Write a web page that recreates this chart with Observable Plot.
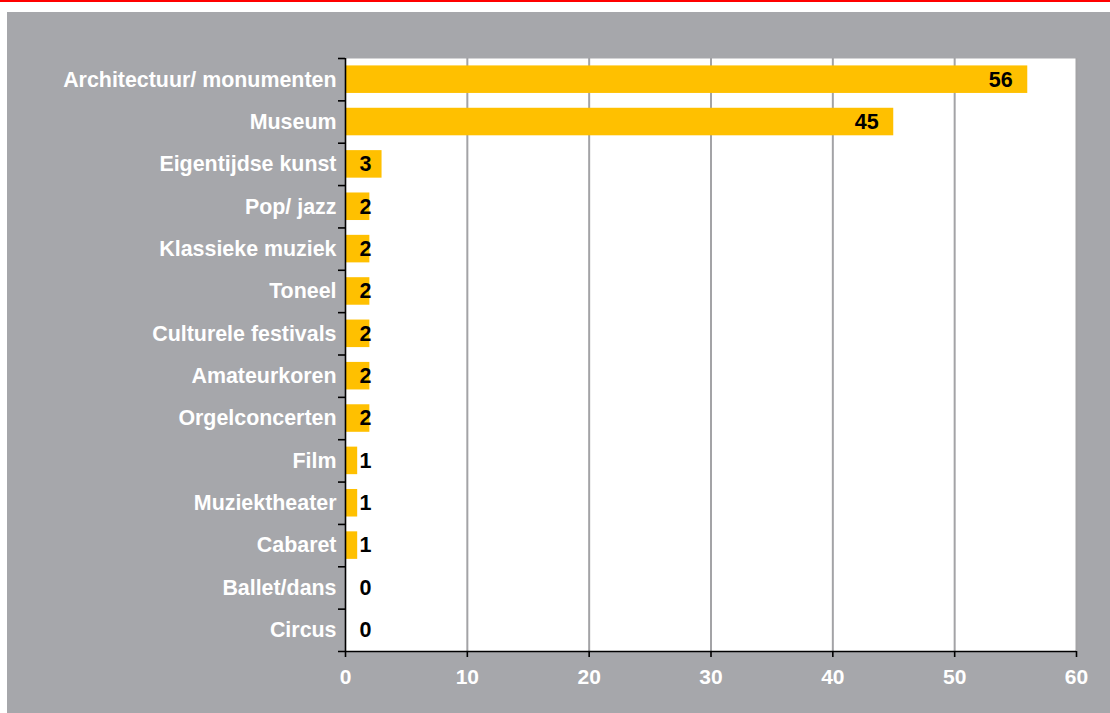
<!DOCTYPE html>
<html>
<head>
<meta charset="utf-8">
<script src="https://cdn.jsdelivr.net/npm/d3@7"></script>
<script src="https://cdn.jsdelivr.net/npm/@observablehq/plot@0.6"></script>
<style>
  html, body { margin: 0; padding: 0; background: #ffffff; }
  #wrap { position: relative; width: 1110px; height: 713px; background: #ffffff; overflow: hidden; }
  #redline { position: absolute; left: 0; top: 0; width: 1110px; height: 2px; background: #ff0000; }
  #panel { position: absolute; left: 7px; top: 12px; width: 1103px; height: 701px; background: #a6a7ab; }
  #panel svg { display: block; }
</style>
</head>
<body>
<div id="wrap">
  <div id="redline"></div>
  <div id="panel"></div>
</div>
<script>
const categories = [
  "Architectuur/ monumenten", "Museum", "Eigentijdse kunst", "Pop/ jazz",
  "Klassieke muziek", "Toneel", "Culturele festivals", "Amateurkoren",
  "Orgelconcerten", "Film", "Muziektheater", "Cabaret", "Ballet/dans", "Circus"
];
const values = [56, 45, 3, 2, 2, 2, 2, 2, 2, 1, 1, 1, 0, 0];
const xTicks = [0, 10, 20, 30, 40, 50, 60];

const data = categories.map((c, i) => ({category: c, value: values[i]}));

const W = 1103, H = 701;
const mT = 46, mB = 62, mL = 338, mR = 34;
const step = (H - mT - mB) / categories.length;
const last = categories[categories.length - 1];

const chart = Plot.plot({
  width: W,
  height: H,
  marginTop: mT,
  marginBottom: mB,
  marginLeft: mL,
  marginRight: mR,
  style: {
    background: "transparent",
    fontFamily: "'Liberation Sans', Arial, sans-serif",
    fontWeight: "bold",
    fontSize: "21px"
  },
  x: {domain: [0, 60], ticks: xTicks},
  y: {domain: categories, paddingInner: 0.35, paddingOuter: 0.175, round: false},
  marks: [
    Plot.frame({fill: "white", stroke: null}),
    Plot.gridX(xTicks.filter(t => t > 0), {stroke: "#a3a3a6", strokeOpacity: 1, strokeWidth: 2}),
    Plot.barX(data, {x: "value", y: "category", fill: "#ffc000"}),
    Plot.ruleX([0], {stroke: "black", strokeWidth: 1.6}),
    Plot.ruleY(categories, {y: d => d, x1: 0, x2: 0, insetLeft: -7, dy: -step / 2, stroke: "black", strokeWidth: 1.6}),
    Plot.ruleY([last], {y: d => d, x1: 0, x2: 60, insetLeft: -7, dy: step / 2, stroke: "black", strokeWidth: 1.6}),
    Plot.axisX({ticks: xTicks, tickSize: 6, tickPadding: 12, stroke: "black", strokeWidth: 1.6, fill: "white", label: null, fontSize: 21}),
    Plot.axisY({tickSize: 0, tickPadding: 9, fill: "white", label: null, fontSize: 21.4}),
    Plot.text(data.filter(d => d.value >= 10), {x: "value", y: "category", text: d => String(d.value), textAnchor: "end", dx: -15, fill: "black", fontSize: 21.5, fontWeight: "bold"}),
    Plot.text(data.filter(d => d.value < 10), {x: 0, y: "category", text: d => String(d.value), textAnchor: "start", dx: 14, fill: "black", fontSize: 21.5, fontWeight: "bold"})
  ]
});

document.getElementById("panel").appendChild(chart);
</script>
</body>
</html>
